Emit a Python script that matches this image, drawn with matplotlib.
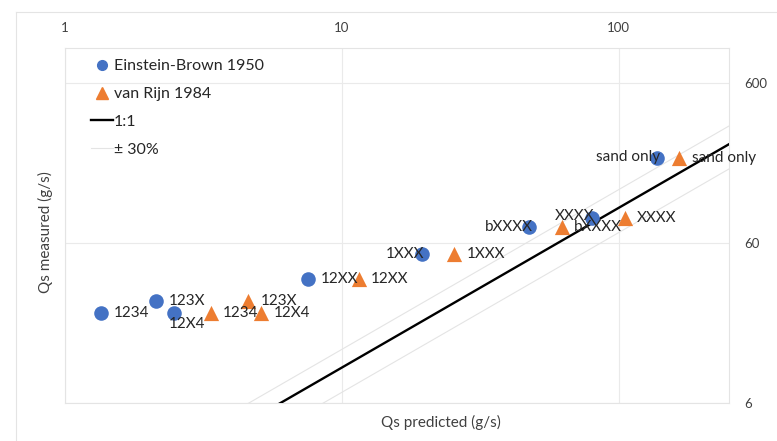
import matplotlib
matplotlib.use("Agg")
import matplotlib.pyplot as plt
from matplotlib.lines import Line2D
import numpy as np

plt.rcParams['font.family'] = ['Lato', 'DejaVu Sans']

# data ==========================================================
labels = ["1234", "123X", "12X4", "12XX", "1XXX", "bXXXX", "XXXX", "sand only"]
qs_measured = [21.8, 26.0, 21.8, 35.7, 51.2, 75.6, 86.1, 204.0]
qs_einstein_brown = [1.35, 2.13, 2.47, 7.54, 19.4, 47.3, 79.9, 137.0]
qs_van_rijn = [3.36, 4.58, 5.10, 11.5, 25.4, 62.1, 105.0, 165.0]
line_x = [1.0, 250.0]
x_ticks = [1, 10, 100]
y_ticks = [6, 60, 600]

blue = "#4472C4"
orange = "#ED7D31"
grid_c = "#E4E4E4"
txt_c = "#262626"
tick_c = "#404040"

# label placement for blue points (offset in points, ha, va)
eb_pos = {
    "1234": (9, 0, "left", "center"),
    "123X": (9, 0, "left", "center"),
    "12X4": (-3.5, -7.5, "left", "center"),
    "12XX": (9, 0, "left", "center"),
    "1XXX": (2, 0, "right", "center"),
    "bXXXX": (3, 0, "right", "center"),
    "XXXX": (1.5, 1.5, "right", "center"),
    "sand only": (2.5, 1, "right", "center"),
}

fig = plt.figure(figsize=(7.77, 4.41), dpi=100)
ax = fig.add_axes([65 / 777, 1 - 403 / 441, (729 - 65) / 777, (403 - 48) / 441])

ax.set_xscale("log")
ax.set_yscale("log")
ax.set_xlim(1, 250)
ax.set_ylim(6, 1000)

# 1:1 and +/-30% lines
lx = np.asarray(line_x)
ax.plot(lx, lx * 1.3, color="#E4E4E4", lw=0.8, zorder=2)
ax.plot(lx, lx * 0.7, color="#E4E4E4", lw=0.8, zorder=2)
ax.plot(lx, lx, color="black", lw=1.7, zorder=3)

ax.scatter(qs_einstein_brown, qs_measured, s=110, color=blue, marker="o",
           linewidths=0, zorder=4)
ax.scatter(qs_van_rijn, qs_measured, s=120, color=orange, marker="^",
           linewidths=0, zorder=4)

for lab, x, y in zip(labels, qs_einstein_brown, qs_measured):
    dx, dy, ha, va = eb_pos[lab]
    ax.annotate(lab, (x, y), xytext=(dx, dy), textcoords="offset points",
                ha=ha, va=va, fontsize=11, color=txt_c, zorder=5)
for lab, x, y in zip(labels, qs_van_rijn, qs_measured):
    ax.annotate(lab, (x, y), xytext=(9, 0), textcoords="offset points",
                ha="left", va="center", fontsize=11, color=txt_c, zorder=5)

# axes styling
ax.xaxis.tick_top()
ax.yaxis.tick_right()
ax.set_xticks(x_ticks)
ax.set_xticklabels([str(v) for v in x_ticks])
ax.set_yticks(y_ticks)
ax.set_yticklabels([str(v) for v in y_ticks])
ax.minorticks_off()
ax.tick_params(axis="x", length=0, pad=10, labelsize=9.5, colors=tick_c)
ax.tick_params(axis="y", length=0, pad=11, labelsize=9.5, colors=tick_c)
ax.grid(True, which="major", color="#EAEAEA", lw=0.8, zorder=0)
ax.set_axisbelow(True)
for sp in ax.spines.values():
    sp.set_color(grid_c)
    sp.set_linewidth(0.8)

fig.text(441 / 777, 1 - 422 / 441, "Qs predicted (g/s)", ha="center",
         va="center", fontsize=11, color=tick_c)
fig.text(45 / 777, 1 - 232 / 441, "Qs measured (g/s)", ha="center",
         va="center", rotation=90, fontsize=11, color=tick_c)

# chart area border
fig.add_artist(Line2D([16 / 777, 1.0], [1 - 12 / 441, 1 - 12 / 441],
                      color=grid_c, lw=0.8, transform=fig.transFigure))
fig.add_artist(Line2D([16 / 777, 16 / 777], [0.0, 1 - 12 / 441],
                      color=grid_c, lw=0.8, transform=fig.transFigure))

handles = [
    Line2D([], [], ls="none", marker="o", color=blue, markersize=7),
    Line2D([], [], ls="none", marker="^", color=orange, markersize=8),
    Line2D([], [], color="black", lw=1.7),
    Line2D([], [], color="#E4E4E4", lw=0.8),
]
leg_labels = ["Einstein-Brown 1950", "van Rijn 1984", "1:1", "\u00b1 30%"]
leg = ax.legend(handles, leg_labels, loc="upper left",
                bbox_to_anchor=(91 / 777, 1 - 59 / 441),
                bbox_transform=fig.transFigure, frameon=False, fontsize=11.5,
                handlelength=1.4, handletextpad=0.05, labelspacing=0.86,
                borderpad=0, borderaxespad=0)
for t in leg.get_texts():
    t.set_color(txt_c)

fig.savefig("out.png", dpi=100)
